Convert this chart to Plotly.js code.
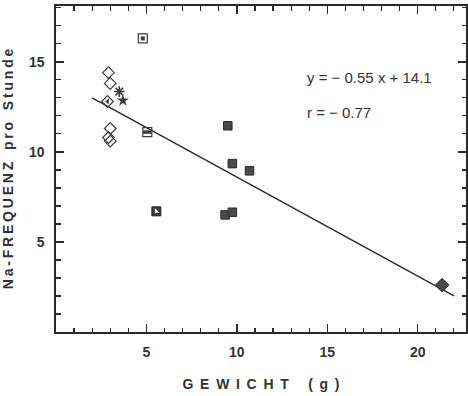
<!DOCTYPE html>
<html>
<head>
<meta charset="utf-8">
<script src="https://cdn.plot.ly/plotly-3.0.1.min.js"></script>
<style>html,body{margin:0;padding:0;background:#fff;}#chart{width:468px;height:396px;}</style>
</head>
<body>
<div id="chart"></div>
<script>
// Data (x = Gewicht in g, y = Na-Frequenz pro Stunde)
const openDiamondX = [2.9, 3.0, 3.0, 2.9, 3.0];
const openDiamondY = [14.4, 13.8, 11.3, 10.8, 10.6];
const halfDiamondX = [2.85];
const halfDiamondY = [12.8];
const asteriskX = [3.5];
const asteriskY = [13.35];
const starX = [3.7];
const starY = [12.85];
const dotSquareX = [4.8];
const dotSquareY = [16.3];
const halfSquareX = [5.05];
const halfSquareY = [11.1];
const diagSquareX = [5.55];
const diagSquareY = [6.7];
const filledSquareX = [9.5, 9.75, 10.7, 9.35, 9.75];
const filledSquareY = [11.45, 9.35, 8.95, 6.5, 6.65];
const filledDiamondX = [21.35];
const filledDiamondY = [2.6];

// Regression given on the chart
const slope = -0.55;
const intercept = 14.1;
const fitX = [2, 22];
const fitY = fitX.map(x => slope * x + intercept);

const xTicks = [5, 10, 15, 20];
const yTicks = [5, 10, 15];

const ink = '#2a2a2a';
const mk = '#3c3c3c';

function pts(x, y, symbol, size, extra) {
  return Object.assign({
    type: 'scatter', mode: 'markers', x: x, y: y, hoverinfo: 'skip',
    marker: Object.assign({symbol: symbol, size: size, color: mk, line: {color: mk, width: 1.2}}, extra || {})
  });
}

const traces = [
  {type: 'scatter', mode: 'lines', x: fitX, y: fitY, line: {color: ink, width: 1.4}, hoverinfo: 'skip'},
  pts(openDiamondX, openDiamondY, 'diamond-open', 9),
  pts(halfDiamondX, halfDiamondY, 'diamond-open', 9),
  pts(halfDiamondX, halfDiamondY, 'triangle-left', 5, {line: {width: 0}}),
  pts(asteriskX, asteriskY, 'asterisk-open', 9, {line: {color: mk, width: 1.6}}),
  pts(starX, starY, 'star', 9, {line: {width: 0}}),
  pts(dotSquareX, dotSquareY, 'square-open', 9),
  pts(dotSquareX, dotSquareY, 'square', 4, {line: {width: 0}}),
  pts(halfSquareX, halfSquareY, 'square-open', 9),
  pts(halfSquareX, halfSquareY, 'line-ew-open', 6, {line: {color: mk, width: 3.5}}),
  pts(diagSquareX, diagSquareY, 'square', 9, {line: {color: '#222', width: 1}}),
  pts(diagSquareX, diagSquareY, 'triangle-sw', 5, {color: '#fff', line: {width: 0}}),
  pts(filledSquareX, filledSquareY, 'square', 8.5, {color: '#4a4a4a', line: {color: '#2a2a2a', width: 1}}),
  pts(filledDiamondX, filledDiamondY, 'diamond', 10.5, {color: '#4a4a4a', line: {color: '#2a2a2a', width: 1}})
];

const axisCommon = {
  showgrid: false, zeroline: false, showline: true, linecolor: ink, linewidth: 1.6,
  mirror: 'ticks', ticks: 'inside', ticklen: 8, tickwidth: 1.4, tickcolor: ink,
  tickfont: {family: 'Liberation Sans, Arial, sans-serif', size: 14, color: '#333', weight: 'bold'},
  ticklabelstandoff: 7,
  minor: {dtick: 1, tick0: 0, ticks: 'inside', ticklen: 4.5, tickwidth: 1.2, tickcolor: ink}
};

const sp = '\u2009';
const yTitle = ['Na-FREQUENZ', 'pro', 'Stunde'].map(w => w.split('').join(sp)).join('\u00a0\u00a0\u00a0');
const xTitle = ['GEWICHT', '(g)'].map(w => w.split('').join('\u00a0' + sp)).join('\u00a0\u00a0\u00a0\u00a0\u00a0');

const layout = {
  width: 468, height: 396,
  margin: {l: 56, r: 2, t: 6, b: 64},
  paper_bgcolor: '#fff', plot_bgcolor: '#fff',
  showlegend: false,
  xaxis: Object.assign({}, axisCommon, {
    range: [0, 22.67], tickmode: 'array', tickvals: xTicks, ticktext: xTicks.map(String),
    title: {text: xTitle, standoff: 20, font: {family: 'Liberation Sans, Arial, sans-serif', size: 14, color: '#333', weight: 'bold'}}
  }),
  yaxis: Object.assign({}, axisCommon, {
    range: [0, 18.1], tickmode: 'array', tickvals: yTicks, ticktext: yTicks.map(String),
    title: {text: yTitle, standoff: 14, font: {family: 'Liberation Sans, Arial, sans-serif', size: 14, color: '#333', weight: 'bold'}}
  }),
  annotations: [
    {xref: 'paper', yref: 'paper', x: 0.607, y: 0.782, xanchor: 'left', yanchor: 'middle', showarrow: false,
     text: 'y = \u2212 0.55 x + 14.1', font: {family: 'Liberation Sans, Arial, sans-serif', size: 15, color: '#333'}},
    {xref: 'paper', yref: 'paper', x: 0.607, y: 0.672, xanchor: 'left', yanchor: 'middle', showarrow: false,
     text: 'r = \u2212 0.77', font: {family: 'Liberation Sans, Arial, sans-serif', size: 15, color: '#333'}}
  ]
};

Plotly.newPlot('chart', traces, layout, {staticPlot: true, displayModeBar: false});
</script>
</body>
</html>
